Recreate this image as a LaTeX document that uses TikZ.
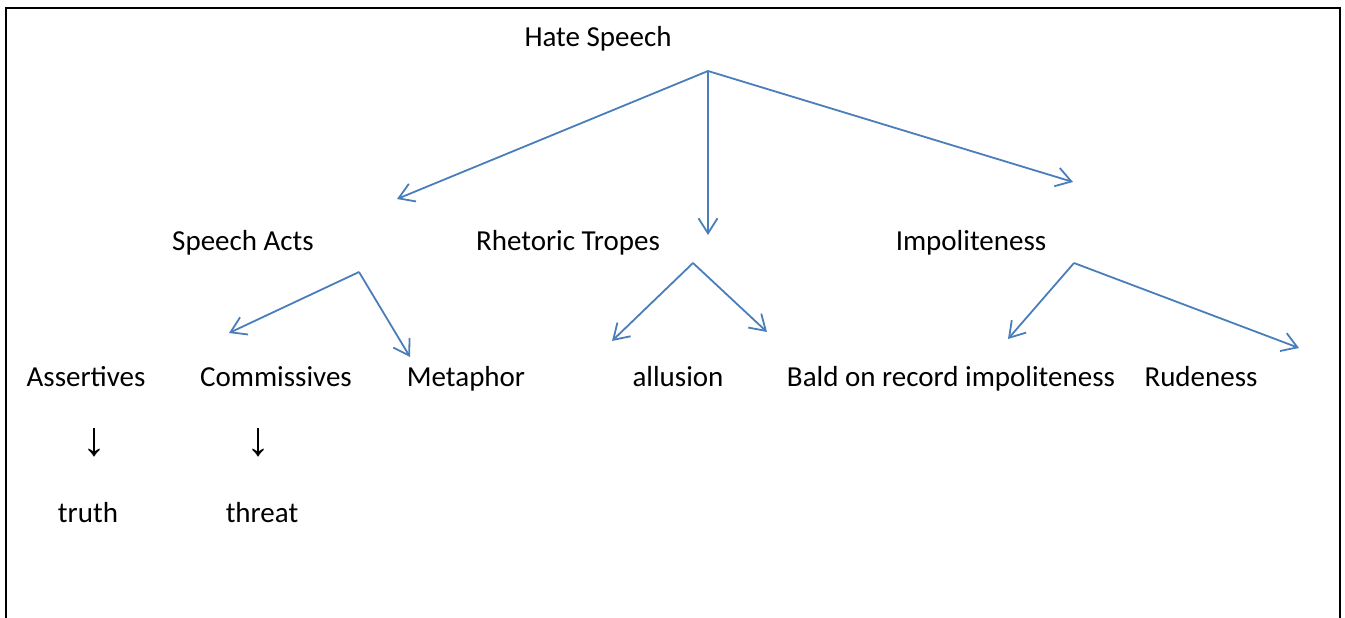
\documentclass[tikz,border=0pt]{standalone}
\usepackage{fontspec}
\setmainfont{Carlito}
\newfontfamily\arrowfont{Liberation Sans}
\usetikzlibrary{arrows.meta}
\definecolor{wordblue}{RGB}{74,126,187}
\pgfdeclarelayer{edgelayer}
\pgfdeclarelayer{nodelayer}
\pgfsetlayers{edgelayer,nodelayer,main}
\tikzstyle{edge}=[draw=wordblue, line width=1.8pt, -{Straight Barb[length=15pt,width=19pt]}]
\tikzstyle{term}=[anchor=base, inner sep=0pt, font=\fontsize{29}{35}\selectfont]
\tikzstyle{downmark}=[anchor=center, inner sep=0pt, font=\fontsize{48}{56}\arrowfont]
\tikzstyle{frame}=[draw=black, line width=1.6pt]

\begin{document}
\begin{tikzpicture}[x=1pt, y=-1pt]
				\useasboundingbox (0, 0) rectangle (1345, 618);
				\draw [style=frame] (6, 640) -- (6, 8) -- (1340, 8) -- (1340, 640);
				\begin{pgfonlayer}{nodelayer}
					\node [style=term] (hate) at (598, 47) {Hate Speech};
					\node [style=term] (acts) at (243, 250) {Speech Acts};
					\node [style=term] (tropes) at (568, 250) {Rhetoric Tropes};
					\node [style=term] (impol) at (971, 250) {Impoliteness};
					\node [style=term] (assert) at (86, 386) {Assertives};
					\node [style=term] (commis) at (276, 386) {Commissives};
					\node [style=term] (metaph) at (466, 386) {Metaphor};
					\node [style=term] (allus) at (678, 386) {allusion};
					\node [style=term] (bald) at (951, 386) {Bald on record impoliteness};
					\node [style=term] (rude) at (1201, 386) {Rudeness};
					\node [style=downmark] (down1) at (94, 443) {↓};
					\node [style=downmark] (down2) at (258, 443) {↓};
					\node [style=term] (truth) at (88, 522) {truth};
					\node [style=term] (threat) at (262, 522) {threat};
				\end{pgfonlayer}
				\coordinate (hate-out) at (708, 71);
				\coordinate (acts-in) at (397, 199);
				\coordinate (tropes-in) at (708, 235);
				\coordinate (impol-in) at (1073, 182);
				\coordinate (acts-out) at (359, 272);
				\coordinate (commis-in) at (229, 333);
				\coordinate (metaph-in) at (410, 357);
				\coordinate (tropes-out) at (693, 263);
				\coordinate (tropes-l) at (612, 341);
				\coordinate (allus-in) at (767, 332);
				\coordinate (impol-out) at (1074, 263);
				\coordinate (bald-in) at (1008, 339);
				\coordinate (rude-in) at (1299, 348);
				\begin{pgfonlayer}{edgelayer}
					\draw [style=edge] (hate-out) to (acts-in);
					\draw [style=edge] (hate-out) to (tropes-in);
					\draw [style=edge] (hate-out) to (impol-in);
					\draw [style=edge] (acts-out) to (commis-in);
					\draw [style=edge] (acts-out) to (metaph-in);
					\draw [style=edge] (tropes-out) to (tropes-l);
					\draw [style=edge] (tropes-out) to (allus-in);
					\draw [style=edge] (impol-out) to (bald-in);
					\draw [style=edge] (impol-out) to (rude-in);
				\end{pgfonlayer}
			\end{tikzpicture}
\end{document}
